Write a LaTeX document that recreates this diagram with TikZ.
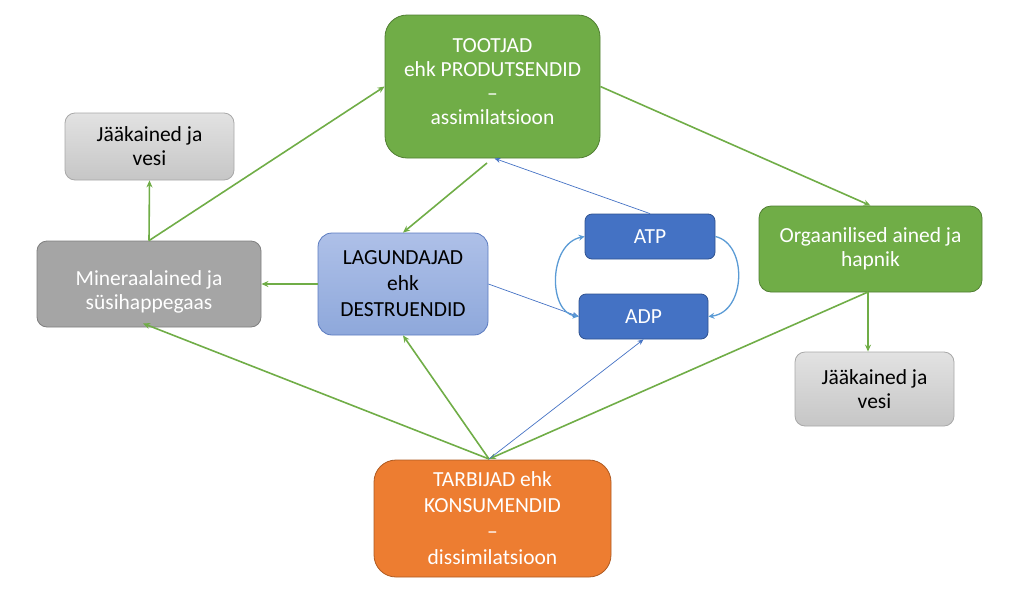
\documentclass[tikz,border=0pt]{standalone}
\usepackage{fontspec}
\setmainfont{Carlito}
\usetikzlibrary{arrows.meta}
\definecolor{grn}{HTML}{70AD47}
\definecolor{grnd}{HTML}{507E32}
\definecolor{gry}{HTML}{A5A5A5}
\definecolor{gryd}{HTML}{7F7F7F}
\definecolor{lgryT}{HTML}{E2E2E2}
\definecolor{lgryB}{HTML}{C6C6C6}
\definecolor{lgryd}{HTML}{A8A8A8}
\definecolor{lblT}{HTML}{AEC0E8}
\definecolor{lblB}{HTML}{8EA8DB}
\definecolor{lbld}{HTML}{5B7BC0}
\definecolor{blu}{HTML}{4472C4}
\definecolor{blud}{HTML}{2F528F}
\definecolor{blul}{HTML}{5B9BD5}
\definecolor{org}{HTML}{ED7D31}
\definecolor{orgd}{HTML}{AE5A21}
\tikzset{
  box/.style={rounded corners=#1, align=center, inner sep=0pt, font=\fontsize{21.5}{24}\selectfont, line width=0.8pt},
  gbox/.style={box=22pt, fill=grn, draw=grnd, text=white},
  greybox/.style={box=10pt, fill=gry, draw=gryd, text=white},
  lgbox/.style={box=10pt, top color=lgryT, bottom color=lgryB, draw=lgryd, text=black},
  lbbox/.style={box=14pt, top color=lblT, bottom color=lblB, draw=lbld, text=black, font=\fontsize{21.5}{26}\selectfont},
  bbox/.style={box=7pt, fill=blu, draw=blud, text=white},
  obox/.style={box=22pt, fill=org, draw=orgd, text=white, font=\fontsize{21.5}{26}\selectfont},
  garr/.style={draw=grn, line width=1.6pt, -{Stealth[length=7pt,width=6pt]}},
  barr/.style={draw=blu, line width=0.7pt, -{Stealth[length=6pt,width=5pt]}},
  carr/.style={draw=blul, line width=1.3pt, -{Stealth[length=6pt,width=6pt]}},
}
\begin{document}
\begin{tikzpicture}[x=1pt,y=-1pt]
\useasboundingbox (0,0) rectangle (1020,595);
\node[gbox, minimum width=215pt, minimum height=143pt] (top) at (492.5,86.5) {TOOTJAD\\ehk PRODUTSENDID\\–\\assimilatsioon\\[-14pt]};
\node[lgbox, minimum width=169pt, minimum height=67pt] (jl) at (149.5,146.5) {Jääkained ja\\vesi};
\node[greybox, minimum width=224pt, minimum height=86pt] (min) at (149,284) {\rule{0pt}{30pt}Mineraalained ja\\süsihappegaas};
\node[lbbox, minimum width=170pt, minimum height=102pt] (lag) at (403,284) {LAGUNDAJAD\\ehk\\DESTRUENDID};
\node[bbox, minimum width=130pt, minimum height=45pt] (atp) at (650,236.5) {ATP};
\node[bbox, minimum width=129pt, minimum height=45pt] (adp) at (643.5,316.5) {ADP};
\node[gbox, box=12pt, minimum width=223pt, minimum height=86pt] (orgn) at (870.5,249) {Orgaanilised ained ja\\hapnik};
\node[lgbox, minimum width=159pt, minimum height=74pt] (jr) at (874.5,389) {Jääkained ja\\vesi};
\node[obox, minimum width=237pt, minimum height=117pt] (tar) at (492.5,518.5) {TARBIJAD ehk\\KONSUMENDID\\–\\dissimilatsioon};
\coordinate (tarp) at (489,459);
\coordinate (orgp) at (868,292);
\coordinate (topb) at (487,163);
% green arrows
\draw[garr] (top.east) -- (orgn.north);
\draw[garr] (min.north) -- (top.west);
\draw[garr] (min.north) -- (jl.south);
\draw[garr] (topb) -- (lag.north);
\draw[garr] (lag.west) -- (min.east);
\draw[garr] (tarp) -- ([xshift=-6pt,yshift=4pt]min.south);
\draw[garr] (tarp) -- (lag.south);
\draw[garr] (orgp) -- (tarp);
\draw[garr] (orgp) -- (orgp |- jr.north);
% blue arrows
\draw[barr] (atp.north) -- ([xshift=2pt]top.south);
\draw[barr] (lag.east) -- (adp.west);
\draw[barr] (tarp) -- (adp.south);
\draw[carr, {Stealth[length=6pt,width=6pt]}-{Stealth[length=6pt,width=6pt]}] (atp.west) .. controls (548,244) and (548,312) .. (adp.west);
\draw[carr] (atp.east) .. controls (748,244) and (746,312) .. (adp.east);
\end{tikzpicture}
\end{document}
